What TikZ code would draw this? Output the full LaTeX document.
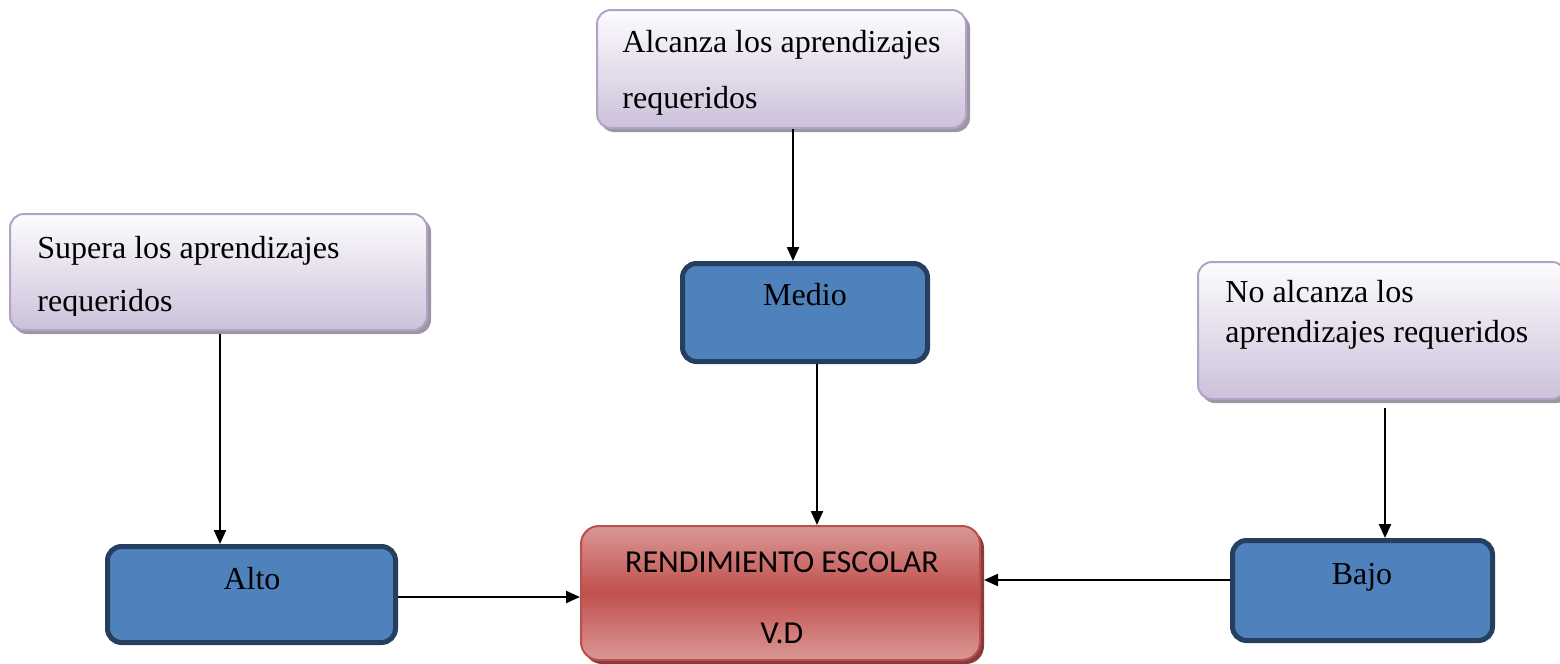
\documentclass[tikz,border=0pt]{standalone}
\usepackage{fontspec}
\setmainfont{Liberation Serif}
\newfontfamily\calib{Carlito}
\usetikzlibrary{arrows.meta}
\definecolor{ptop}{HTML}{FDFCFE}
\definecolor{pbot}{HTML}{CCC1DA}
\definecolor{pline}{HTML}{B3A2C7}
\definecolor{pshad}{HTML}{9C96A2}
\definecolor{bfill}{HTML}{4F81BD}
\definecolor{bline}{HTML}{243F60}
\definecolor{rmid}{HTML}{C0504D}
\definecolor{rlight}{HTML}{DA9896}
\definecolor{rline}{HTML}{B9504C}
\definecolor{rshad}{HTML}{8A3A38}
\tikzset{
  pbox/.style={rectangle, rounded corners=7pt, draw=pline, line width=1pt,
    top color=ptop, bottom color=pbot, inner sep=0pt},
  pshadow/.style={fill=pshad, rounded corners=7pt},
  bbox/.style={rectangle, rounded corners=7pt, draw=bline, line width=2.5pt,
    fill=bfill, inner sep=0pt},
  rbox/.style={rectangle, rounded corners=9pt, draw=rline, line width=1pt,
    top color=rlight, bottom color=rlight, middle color=rmid, inner sep=0pt},
  txt/.style={anchor=base west, inner sep=0pt, font=\fontsize{16}{19}\selectfont},
  ctxt/.style={anchor=base, inner sep=0pt, font=\fontsize{16}{19}\selectfont},
  stxt/.style={anchor=base, inner sep=0pt, font=\calib\fontsize{16}{19}\selectfont},
  arr/.style={line width=1.1pt, -{Triangle[length=7pt,width=6pt]}}
}
\begin{document}
\begin{tikzpicture}[x=0.5pt,y=-0.5pt]
\useasboundingbox (0,0) rectangle (1560,664);
% shadows
\fill[pshadow] (600,14) rectangle (970,132);
\fill[pshadow] (13,218) rectangle (431,334);
\fill[pshadow] (1201,266) rectangle (1570,403);
\fill[rshad, rounded corners=9pt] (584,530) rectangle (984,664);
% purple boxes
\node[pbox, minimum width=184.5pt, minimum height=59pt] (topP) at (781.5,69) {};
\node[pbox, minimum width=208.5pt, minimum height=58pt] (leftP) at (218.5,272) {};
\node[pbox, minimum width=184pt, minimum height=68.5pt] (rightP) at (1382,330.5) {};
% blue boxes
\node[bbox, minimum width=122.5pt, minimum height=49pt] (medio) at (805,312.5) {};
\node[bbox, minimum width=144pt, minimum height=48pt] (alto) at (251.5,594.5) {};
\node[bbox, minimum width=130pt, minimum height=50pt] (bajo) at (1362.5,590.5) {};
% red box
\node[rbox, minimum width=199.5pt, minimum height=67pt] (rend) at (780.5,593) {};
% texts
\node[txt] (t1a) at (622,53) {Alcanza los aprendizajes};
\node[txt] (t1b) at (622,108) {requeridos};
\begin{scope}
\clip (0,0) rectangle (1560,315);
\node[txt] (t2a) at (37,258) {Supera los aprendizajes};
\node[txt] (t2b) at (37,311) {requeridos};
\end{scope}
\node[txt] (t3a) at (1225,302) {No alcanza los};
\node[txt] (t3b) at (1225,342) {aprendizajes requeridos};
\node[ctxt] (tm) at (805,305) {Medio};
\node[ctxt] (ta) at (252,589) {Alto};
\node[ctxt] (tb) at (1362,584) {Bajo};
\node[stxt] (tr1) at (782,572) {RENDIMIENTO ESCOLAR};
\node[stxt] (tr2) at (782,643) {V.D};
% connectors
\coordinate (x1) at (793,0);
\coordinate (x2) at (817,0);
\coordinate (x3) at (220,0);
\coordinate (y4) at (0,597);
\coordinate (s5) at (1385,408);
\coordinate (y6) at (0,580);
\coordinate (e6) at (984,580);
\draw[arr] (topP.south -| x1) -- (medio.north -| x1);
\draw[arr] (medio.south -| x2) -- (rend.north -| x2);
\draw[arr] (leftP.south -| x3) ++(0,3) -- (alto.north -| x3);
\draw[arr] (alto.east |- y4) -- (rend.west |- y4);
\draw[arr] (s5) -- (bajo.north -| s5);
\draw[arr] (bajo.west |- y6) -- (e6);
\end{tikzpicture}
\end{document}
